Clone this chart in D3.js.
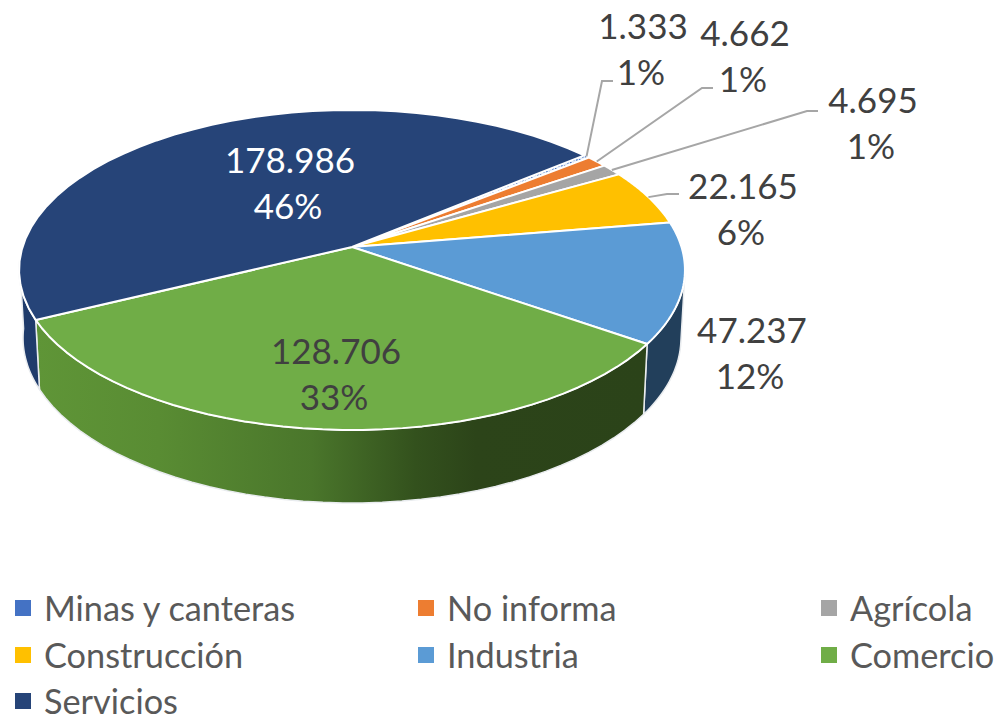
<!DOCTYPE html>
<html><head><meta charset="utf-8">
<script src="https://cdn.jsdelivr.net/npm/d3@7"></script>
<style>html,body{margin:0;padding:0;background:#fff}svg{display:block}text{font-family:Lato,"Open Sans",sans-serif}</style>
</head><body><svg id="c" width="999" height="716"></svg>
<script>
const categories=["Minas y canteras","No informa","Agrícola","Construcción","Industria","Comercio","Servicios"];
const values=[1333,4662,4695,22165,47237,128706,178986];
const percents=["1%","1%","1%","6%","12%","33%","46%"];
const colors=["#4472c4","#ed7d31","#a5a5a5","#ffc000","#5b9bd5","#70ad47","#264478"];
const wallColors=[null,null,null,null,"#223f5b","url(#greenWall)","#1f3b6b"];
const labelPos=[[643,27],[745,34],[873,101],[743,187],[752,331],[336,352],[290,161]];
const leaderElbows=[[[602,81],[613,81]],[[702,88],[713,88]],[[807,111],[818,111]],[[667,194],[679,194]],null,null,null];
const labelColors=["#404040","#404040","#404040","#404040","#404040","#404040","#ffffff"];
const legendCols=[15,418,821], legendRows=[608,655,701];

const svg=d3.select("#c");
const fmt=d3.formatLocale({decimal:",",thousands:".",grouping:[3],currency:["",""]}).format(",d");
const rad=Math.PI/180;
const pie=d3.pie().sort(null).value(d=>d).startAngle(50.3*rad).endAngle(410.3*rad);
const arcs=pie(values);

// projective mapping of the tilted disk (angle clockwise from the back)
const apex=[352,247],k=0.1436;
function rimTop(a){const u=Math.sin(a),v=-Math.cos(a),w=1-k*v;
  return [apex[0]+329.5*u/w,apex[1]+156.7*v/w];}
function rimBottom(a){const p=rimTop(a);
  return [352+(p[0]-352)*(329/333),338+(p[1]-270)*(165/160)];}
const samples=(a0,a1)=>d3.range(0,41).map(i=>a0+(a1-a0)*i/40);
const line=d3.line();

const defs=svg.append("defs");
const g=defs.append("linearGradient").attr("id","greenWall").attr("gradientUnits","userSpaceOnUse")
  .attr("x1",37).attr("x2",647).attr("y1",0).attr("y2",0);
[[0,"#5f9537"],[0.2,"#598c33"],[0.45,"#4a762b"],[0.62,"#33511d"],[0.72,"#2c4419"],[1,"#2b4319"]]
  .forEach(s=>g.append("stop").attr("offset",s[0]).attr("stop-color",s[1]));
const hatch=defs.append("pattern").attr("id","minasHatch").attr("patternUnits","userSpaceOnUse")
  .attr("width",3).attr("height",3);
hatch.append("rect").attr("width",3).attr("height",3).attr("fill","#dfe8f6");
hatch.append("rect").attr("width",1.6).attr("height",1.6).attr("fill",colors[0]);

// side walls, limited to the visible front of the disk
const frontFrom=100*rad, frontTo=265*rad;
arcs.forEach((d,i)=>{
  if(!wallColors[i])return;
  const a0=Math.max(d.startAngle,frontFrom),a1=Math.min(d.endAngle,frontTo);
  if(a1<=a0)return;
  const s=samples(a0,a1);
  svg.append("path").attr("d",line(s.map(rimTop).concat(s.slice().reverse().map(rimBottom)))+"Z")
    .attr("fill",wallColors[i]).attr("stroke","#e9ecef").attr("stroke-width",1.5).attr("stroke-linejoin","round");
});

// top face
arcs.forEach((d,i)=>{
  const pts=[apex].concat(samples(d.startAngle,d.endAngle).map(rimTop));
  svg.append("path").attr("d",line(pts)+"Z").attr("fill",i===0?"url(#minasHatch)":colors[i])
    .attr("stroke","#ffffff").attr("stroke-width",i===0?0.8:2).attr("stroke-linejoin","round");
});

// leader lines
arcs.forEach((d,i)=>{
  if(!leaderElbows[i])return;
  const start=rimTop((d.startAngle+d.endAngle)/2);
  svg.append("path").attr("d",line([start].concat(leaderElbows[i]))).attr("fill","none")
    .attr("stroke","#a6a6a6").attr("stroke-width",2);
});

// data labels
values.forEach((v,i)=>{
  const t=svg.append("text").attr("text-anchor","middle").attr("fill",labelColors[i]).attr("font-size",35);
  t.append("tspan").attr("x",labelPos[i][0]).attr("y",labelPos[i][1]+12).text(fmt(v));
  t.append("tspan").attr("x",labelPos[i][0]-2).attr("y",labelPos[i][1]+58).text(percents[i]);
});

// legend
categories.forEach((c,i)=>{
  const x=legendCols[i%3],y=legendRows[Math.floor(i/3)];
  svg.append("rect").attr("x",x).attr("y",y-8).attr("width",16).attr("height",16).attr("fill",colors[i]);
  svg.append("text").attr("x",x+29).attr("y",y+12.5).attr("fill","#595959").attr("font-size",34.3).text(c);
});
</script></body></html>
